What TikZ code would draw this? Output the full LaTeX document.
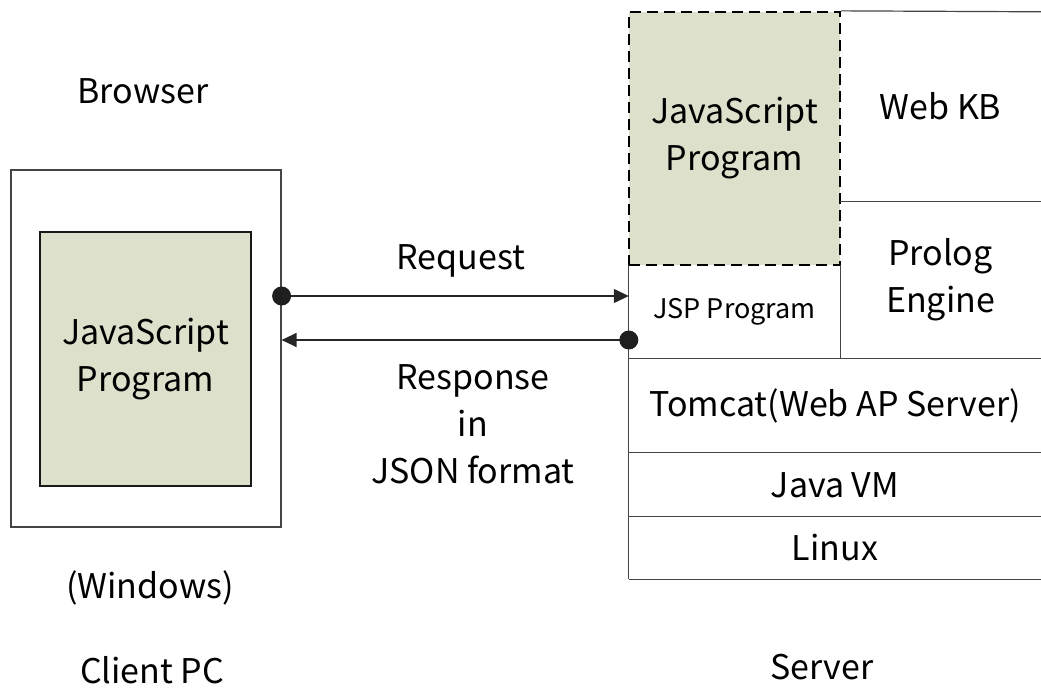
\documentclass[tikz,border=0pt]{standalone}
\usepackage{fontspec}
\setmainfont{Noto Sans CJK JP}
\usetikzlibrary{arrows.meta}
\definecolor{jsgreen}{HTML}{DDE0CB}
\definecolor{edge}{HTML}{444444}
\begin{document}
\begin{tikzpicture}[x=1pt,y=-1pt,
  lbl/.style={font=\fontsize{34}{47}\selectfont, align=center, inner sep=0pt, yshift=-3pt},
  smalllbl/.style={font=\fontsize{27}{32}\selectfont, align=center, inner sep=0pt},
  cell/.style={inner sep=0pt, align=center, font=\fontsize{34}{47}\selectfont},
  thin/.style={draw=edge, line width=1.2pt},
  greenbox/.style={fill=jsgreen, draw=black!90, line width=2pt, inner sep=0pt, align=center, font=\fontsize{34}{47}\selectfont},
  conn/.style={draw=black!85, line width=1.3pt, -{Triangle[length=15pt,width=14pt]}},
  dot/.style={fill=black!88}
]
\useasboundingbox (0,0) rectangle (1041,689);

% Client side
\node (client) [thin, minimum width=270pt, minimum height=357pt, inner sep=0pt] at (146,348.5) {};
\node (cjs) [greenbox, minimum width=211pt, minimum height=254pt] at (145.5,359) {JavaScript\\Program};
\node (browser) [lbl] at (143,88) {Browser};
\node (windows) [lbl] at (150,585) {(Windows)};
\node (clientpc) [lbl, yshift=3pt] at (152,670) {Client PC};

% Server side
\node (sjs) [greenbox, dashed, draw=black, line width=2.3pt, dash pattern=on 11pt off 6pt, minimum width=211pt, minimum height=253pt] at (734.5,138.5) {JavaScript\\Program};
\node (webkb) [cell, minimum width=201pt, minimum height=189pt] at (940.5,106.5) {Web KB};
\node (prolog) [cell, minimum width=201pt, minimum height=158pt] at (940.5,280) {Prolog\\Engine};
\node (jsp) [smalllbl, minimum width=211pt, minimum height=94pt] at (734.5,312) {JSP Program};
\node (tomcat) [cell, minimum width=412pt, minimum height=94pt] at (835,406) {Tomcat(Web AP Server)};
\node (javavm) [cell, minimum width=412pt, minimum height=64pt] at (835,485) {Java VM};
\node (linux) [cell, minimum width=412pt, minimum height=62pt] at (835,548) {Linux};
\node (server) [lbl] at (822,664) {Server};

% Server grid lines
\draw[thin] (sjs.north east) -- (webkb.north east);
\draw[thin] (webkb.south west) -- (webkb.south east);
\draw[thin] (jsp.north east) -- (jsp.south east);
\draw[thin] (jsp.north west) -- (linux.south west);
\draw[thin] (tomcat.north west) -- (tomcat.north east);
\draw[thin] (javavm.north west) -- (javavm.north east);
\draw[thin] (linux.north west) -- (linux.north east);
\draw[thin] (linux.south west) -- (linux.south east);

% Connectors
\coordinate (reqA) at (client.east |- 0,296);
\coordinate (reqB) at (jsp.west |- 0,296);
\coordinate (resA) at (jsp.west |- 0,340);
\coordinate (resB) at (client.east |- 0,340);
\draw[conn] (reqA) -- (reqB);
\draw[conn] (resA) -- (resB);
\fill[dot] (reqA) circle (9.5pt);
\fill[dot] (resA) circle (9.5pt);
\node (request) [lbl] at (461,258) {Request};
\node (response) [lbl] at (473,421) {Response\\in\\JSON format};
\end{tikzpicture}
\end{document}
